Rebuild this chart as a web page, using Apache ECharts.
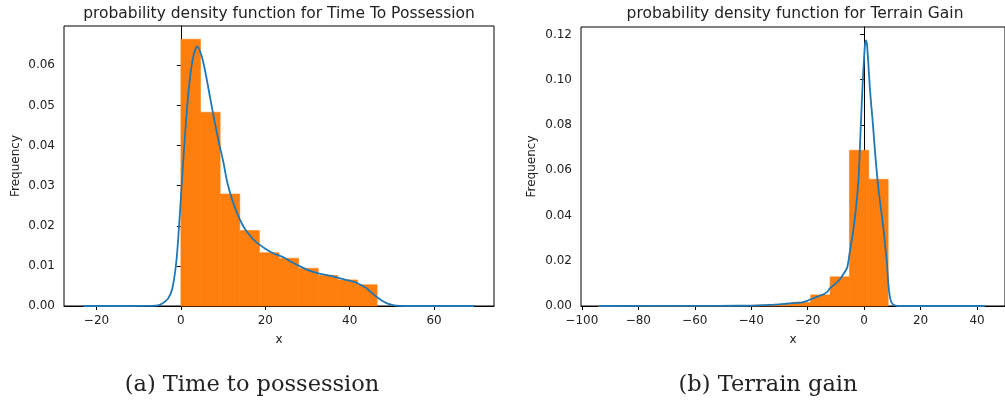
<!DOCTYPE html>
<html>
<head>
<meta charset="utf-8">
<script src="https://cdn.jsdelivr.net/npm/echarts@6/dist/echarts.min.js"></script>
<style>
html,body{margin:0;padding:0;background:#fff;}
#chart{width:1005px;height:403px;}
</style>
</head>
<body>
<div id="chart"></div>
<script>
// ---- Time To Possession ----
const tpBinEdges = [0, 4.65, 9.3, 13.95, 18.6, 23.25, 27.9, 32.55, 37.2, 41.85, 46.5];
const tpBinHeights = [0.0665, 0.0483, 0.0279, 0.0188, 0.0133, 0.0119, 0.0094, 0.0076, 0.0065, 0.0053];
const tpKdeX = [-23.1, -12, -8, -6, -5, -4, -3, -2, -1, 0, 1, 2, 3, 3.9, 5, 6, 7, 8, 9, 10, 11, 12, 13, 14, 15, 16, 17, 18, 20, 22, 24, 26, 28, 30, 32, 34, 36, 38, 40, 42, 44, 45, 46, 47, 48, 49, 50, 51, 53, 60, 69.5];
const tpKdeY = [0, 0, 0.00002, 0.0001, 0.0003, 0.0009, 0.0019, 0.0045, 0.0119, 0.027, 0.043, 0.0555, 0.0625, 0.0647, 0.062, 0.0572, 0.0515, 0.046, 0.0408, 0.0362, 0.0308, 0.027, 0.024, 0.0215, 0.0195, 0.018, 0.0168, 0.0158, 0.0143, 0.0131, 0.0123, 0.0111, 0.01, 0.009, 0.0083, 0.0078, 0.0074, 0.0068, 0.0063, 0.0056, 0.0044, 0.0035, 0.0026, 0.0018, 0.0011, 0.0006, 0.0003, 0.0001, 0, 0, 0];
const tpXTicks = [-20, 0, 20, 40, 60];
const tpYTicks = [0, 0.01, 0.02, 0.03, 0.04, 0.05, 0.06];

// ---- Terrain Gain ----
const tgBinEdges = [-94.39, -87.53, -80.67, -73.81, -66.95, -60.09, -53.23, -46.37, -39.51, -32.65, -25.79, -18.93, -12.07, -5.21, 1.65, 8.51];
const tgBinHeights = [0.00005, 0.00003, 0, 0.00005, 0.00005, 0.0001, 0.0001, 0.0002, 0.0004, 0.0007, 0.0016, 0.0049, 0.0129, 0.0688, 0.0560];
const tgKdeX = [-94, -60, -45, -40, -35, -30, -27, -24, -22, -20, -18, -16, -15, -14, -13, -12, -10, -9, -8, -7, -6, -5, -4, -3, -2, -1.5, -1, -0.5, 0, 0.3, 0.65, 1, 1.5, 2, 2.5, 3, 3.5, 4, 5, 6, 7, 7.5, 8, 8.5, 9, 9.5, 10.3, 11.5, 13, 20, 42.8];
const tgKdeY = [0, 0.00005, 0.0001, 0.00015, 0.0004, 0.0007, 0.0011, 0.0014, 0.0016, 0.0024, 0.0034, 0.0044, 0.0049, 0.0054, 0.0063, 0.008, 0.01, 0.0112, 0.0128, 0.0148, 0.017, 0.0245, 0.032, 0.042, 0.056, 0.07, 0.085, 0.099, 0.11, 0.1155, 0.1174, 0.1155, 0.107, 0.097, 0.089, 0.082, 0.074, 0.066, 0.0525, 0.0425, 0.0325, 0.026, 0.02, 0.011, 0.005, 0.0022, 0.0006, 0.0001, 0, 0, 0];
const tgXTicks = [-100, -80, -60, -40, -20, 0, 20, 40];
const tgYTicks = [0, 0.02, 0.04, 0.06, 0.08, 0.10, 0.12];

const titles = ['probability density function for Time To Possession', 'probability density function for Terrain Gain'];
const captions = ['(a) Time to possession', '(b) Terrain gain'];

const ORANGE = '#ff7f0e', BLUE = '#1f77b4', TXT = '#222';
const FONT = 'DejaVu Sans';

function zip(a, b) { return a.map((v, i) => [v, b[i]]); }
function binData(edges, h) { return h.map((v, i) => [edges[i], edges[i + 1], v]); }

function histSeries(edges, heights, idx) {
  return {
    type: 'custom', xAxisIndex: idx, yAxisIndex: idx, z: 2,
    data: binData(edges, heights),
    encode: { x: [0, 1], y: 2 },
    renderItem: function (params, api) {
      const p0 = api.coord([api.value(0), api.value(2)]);
      const p1 = api.coord([api.value(1), 0]);
      return { type: 'rect', shape: { x: p0[0], y: p0[1], width: p1[0] - p0[0], height: p1[1] - p0[1] },
        style: { fill: ORANGE, stroke: ORANGE, lineWidth: 0.6 } };
    }
  };
}
function kdeSeries(xs, ys, idx) {
  return {
    type: 'line', xAxisIndex: idx, yAxisIndex: idx, z: 3,
    data: zip(xs, ys), showSymbol: false, symbol: 'none',
    smooth: 0.3,
    lineStyle: { color: BLUE, width: 1.8 }
  };
}
function xAxis(idx, min, max, ticks) {
  return {
    type: 'value', gridIndex: idx, min: min, max: max,
    name: 'x', nameLocation: 'middle', nameGap: 28,
    nameTextStyle: { fontFamily: FONT, fontSize: 12, color: TXT },
    axisLine: { show: true, onZero: false, lineStyle: { color: '#000', width: 1 } },
    axisTick: { show: true, inside: false, length: 4, customValues: ticks, lineStyle: { color: '#000' } },
    axisLabel: { customValues: ticks, margin: 9, fontFamily: FONT, fontSize: 12, color: TXT,
      formatter: v => (v < 0 ? '\u2212' + Math.abs(v) : String(v)) },
    splitLine: { show: false }
  };
}
function yAxis(idx, max, ticks, gap) {
  return {
    type: 'value', gridIndex: idx, min: 0, max: max,
    name: 'Frequency', nameLocation: 'middle', nameGap: gap, nameRotate: 90,
    nameTextStyle: { fontFamily: FONT, fontSize: 12, color: TXT },
    axisLine: { show: true, lineStyle: { color: '#000', width: 1 } },
    axisTick: { show: true, inside: false, length: 4, customValues: ticks, lineStyle: { color: '#000' } },
    axisLabel: { customValues: ticks, margin: 9, fontFamily: FONT, fontSize: 12, color: TXT,
      formatter: v => v.toFixed(2) },
    splitLine: { show: false }
  };
}
function txt(x, y, s, size, family) {
  return { type: 'text', x: x, y: y, z: 10, style: { text: s, fill: TXT, font: size + 'px "' + family + '"', textAlign: 'center', textVerticalAlign: 'middle' } };
}

const chart = echarts.init(document.getElementById('chart'), null, { renderer: 'canvas' });
chart.setOption({
  animation: false,
  backgroundColor: '#fff',
  grid: [
    { left: 64, top: 26, width: 430, height: 280, show: true, borderColor: '#000', borderWidth: 1, backgroundColor: 'transparent' },
    { left: 581, top: 27, width: 430, height: 279, show: true, borderColor: '#000', borderWidth: 1, backgroundColor: 'transparent' }
  ],
  xAxis: [xAxis(0, -27.7, 74.2, tpXTicks), xAxis(1, -100.3, 49.9, tgXTicks)],
  yAxis: [yAxis(0, 0.0698, tpYTicks, 42), yAxis(1, 0.1233, tgYTicks, 43)],
  series: [
    histSeries(tpBinEdges, tpBinHeights, 0), kdeSeries(tpKdeX, tpKdeY, 0),
    histSeries(tgBinEdges, tgBinHeights, 1), kdeSeries(tgKdeX, tgKdeY, 1)
  ],
  graphic: [
    txt(279, 14, titles[0], 15.5, FONT),
    txt(795, 14, titles[1], 15.5, FONT),
    txt(252, 385, captions[0], 22.5, 'DejaVu Serif'),
    txt(768, 385, captions[1], 22.5, 'DejaVu Serif')
  ]
});
</script>
</body>
</html>
